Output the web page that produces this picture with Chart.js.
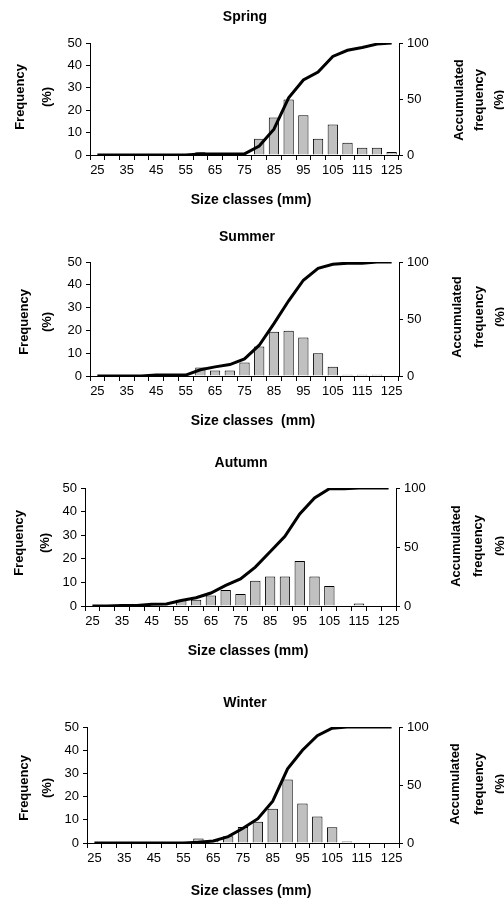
<!DOCTYPE html>
<html>
<head>
<meta charset="utf-8">
<script src="https://cdn.jsdelivr.net/npm/chart.js@4"></script>
<style>
  html, body { margin: 0; padding: 0; background: #fff; }
  #wrap { position: relative; width: 504px; height: 900px; overflow: hidden; }
  #wrap canvas { position: absolute; left: 0; }
</style>
</head>
<body>
<div id="wrap">
  <canvas id="spring"></canvas>
  <canvas id="summer"></canvas>
  <canvas id="autumn"></canvas>
  <canvas id="winter"></canvas>
</div>
<script>
// Size classes (mm) on the category axis
const sizeClasses = ['25','30','35','40','45','50','55','60','65','70','75','80','85','90','95','100','105','110','115','120','125'];
// Classes that carry a printed tick label
const labelledClasses = ['25','35','45','55','65','75','85','95','105','115','125'];
const freqTicks = [0, 10, 20, 30, 40, 50];
const accTicks = [0, 50, 100];

// Frequency (%) per size class
const springFreq = [0,0,0,0,0,0,0,1.2,0,0,0,7.3,16.7,24.8,17.8,7.3,13.6,5.5,3.2,3.2,1.3];
const summerFreq = [0,0,0,0,0,0,0,3.7,2.4,2.4,5.9,12.9,19.4,19.9,16.9,10,4.1,0.6,0.6,0.6,0];
const autumnFreq = [0,0,0.4,0,0,0,2.6,2.7,4.4,6.8,5.1,10.7,12.5,12.5,19.1,12.5,8.5,0,1.1,0,0];
const winterFreq = [0,0,0,0,0,0,0,1.9,1.0,2.9,6.9,9.2,14.8,27.4,17.0,11.4,6.8,0.6,0,0,0];

// Accumulated frequency (%) per size class
const springAcc = [0,0,0,0,0,0,0,1,1,1,1,8,23,51,67,74,88,93.5,96,99,100];
const summerAcc = [0,0,0,0,0.8,0.8,0.8,5.5,8,10,15,27,46,66,84,94.5,98,99,99,100,100];
const autumnAcc = [0,0,0.5,0.5,1.4,1.7,4.6,7,11,17.5,23,33,46,59,78,91.5,99.4,99.4,100,100,100];
const winterAcc = [0,0,0,0,0,0,0,0.6,1.7,5.5,12.7,21,36,64,80,92.5,99,100,100,100,100];

const FONT = '"Liberation Sans", Arial, Helvetica, sans-serif';
const PAGE_W = 504;

// Panel layout on the page (pixels)
const panels = [
  { id: 'spring', title: 'Spring', xTitle: 'Size classes (mm)', freq: springFreq, acc: springAcc,
    band: [0, 225], plot: { l: 90, r: 399, t: 43, b: 155 },
    titleAt: [245, 17], xTitleAt: [251, 200], leftAt: [20, 47, 97], rightAt: [459, 479, 499, 100] },
  { id: 'summer', title: 'Summer', xTitle: 'Size classes  (mm)', freq: summerFreq, acc: summerAcc,
    band: [225, 455], plot: { l: 90, r: 399, t: 262, b: 376 },
    titleAt: [247, 237], xTitleAt: [253, 421], leftAt: [24, 47, 322], rightAt: [457, 479, 500, 317] },
  { id: 'autumn', title: 'Autumn', xTitle: 'Size classes (mm)', freq: autumnFreq, acc: autumnAcc,
    band: [455, 685], plot: { l: 85, r: 396, t: 488, b: 606 },
    titleAt: [241, 463], xTitleAt: [248, 651], leftAt: [19, 45, 543], rightAt: [456, 478, 500, 546] },
  { id: 'winter', title: 'Winter', xTitle: 'Size classes (mm)', freq: winterFreq, acc: winterAcc,
    band: [685, 900], plot: { l: 87, r: 399, t: 727, b: 843 },
    titleAt: [245, 703], xTitleAt: [251, 891], leftAt: [24, 47, 788], rightAt: [455, 479, 500, 784] }
];

function rotatedText(ctx, text, x, y) {
  ctx.save();
  ctx.translate(x, y);
  ctx.rotate(-Math.PI / 2);
  ctx.textAlign = 'center';
  ctx.textBaseline = 'middle';
  ctx.fillText(text, 0, 0);
  ctx.restore();
}

function makePanel(p) {
  const canvas = document.getElementById(p.id);
  const top = p.band[0];
  const height = p.band[1] - p.band[0];
  canvas.width = PAGE_W;
  canvas.height = height;
  canvas.style.top = top + 'px';
  canvas.style.width = PAGE_W + 'px';
  canvas.style.height = height + 'px';

  // Titles: chart title, axis titles (y titles read bottom to top on both sides)
  const panelText = {
    id: 'panelText',
    afterDraw(chart) {
      const ctx = chart.ctx;
      ctx.save();
      ctx.fillStyle = '#000';
      ctx.textAlign = 'center';
      ctx.textBaseline = 'middle';
      ctx.font = 'bold 14px ' + FONT;
      ctx.fillText(p.title, p.titleAt[0], p.titleAt[1] - top);
      ctx.fillText(p.xTitle, p.xTitleAt[0], p.xTitleAt[1] - top);
      ctx.font = 'bold 13px ' + FONT;
      rotatedText(ctx, 'Frequency', p.leftAt[0], p.leftAt[2] - top);
      rotatedText(ctx, '(%)', p.leftAt[1], p.leftAt[2] - top);
      rotatedText(ctx, 'Accumulated', p.rightAt[0], p.rightAt[3] - top);
      rotatedText(ctx, 'frequency', p.rightAt[1], p.rightAt[3] - top);
      rotatedText(ctx, '(%)', p.rightAt[2], p.rightAt[3] - top);
      ctx.restore();
    }
  };

  const tickFont = { family: FONT, size: 13 };

  return new Chart(canvas, {
    data: {
      labels: sizeClasses,
      datasets: [
        {
          type: 'line', label: 'Accumulated frequency', data: p.acc, yAxisID: 'y1',
          borderColor: '#000', borderWidth: 3, pointRadius: 0, tension: 0, fill: false, order: 0
        },
        {
          type: 'bar', label: 'Frequency', data: p.freq, yAxisID: 'y',
          backgroundColor: '#c0c0c0', borderColor: '#000', borderWidth: 1,
          categoryPercentage: 1, barPercentage: 0.7, order: 1
        }
      ]
    },
    options: {
      responsive: false,
      animation: false,
      devicePixelRatio: 1,
      layout: { padding: { top: p.plot.t - top, left: 0, right: 0, bottom: 0 } },
      plugins: { legend: { display: false }, tooltip: { enabled: false }, title: { display: false } },
      scales: {
        x: {
          type: 'category',
          offset: true,
          grid: { display: true, offset: true, drawOnChartArea: false, drawTicks: true, tickLength: 5, color: '#000', lineWidth: 1 },
          border: { display: true, color: '#000', width: 1 },
          ticks: {
            autoSkip: false, maxRotation: 0, minRotation: 0, padding: 3, color: '#000', font: tickFont,
            callback(value) {
              const lab = this.getLabelForValue(value);
              return labelledClasses.includes(lab) ? lab : '';
            }
          },
          afterFit(scale) { scale.height = height - (p.plot.b - top); }
        },
        y: {
          position: 'left', min: freqTicks[0], max: freqTicks[freqTicks.length - 1],
          afterBuildTicks(scale) { scale.ticks = freqTicks.map(v => ({ value: v })); },
          grid: { drawOnChartArea: false, drawTicks: true, tickLength: 4, color: '#000', lineWidth: 1 },
          border: { display: true, color: '#000', width: 1 },
          ticks: { padding: 4, color: '#000', font: tickFont },
          afterFit(scale) { scale.width = p.plot.l; }
        },
        y1: {
          position: 'right', min: accTicks[0], max: accTicks[accTicks.length - 1],
          afterBuildTicks(scale) { scale.ticks = accTicks.map(v => ({ value: v })); },
          grid: { drawOnChartArea: false, drawTicks: true, tickLength: 4, color: '#000', lineWidth: 1 },
          border: { display: true, color: '#000', width: 1 },
          ticks: { padding: 4, color: '#000', font: tickFont },
          afterFit(scale) { scale.width = PAGE_W - p.plot.r; }
        }
      }
    },
    plugins: [panelText]
  });
}

panels.forEach(makePanel);
</script>
</body>
</html>
